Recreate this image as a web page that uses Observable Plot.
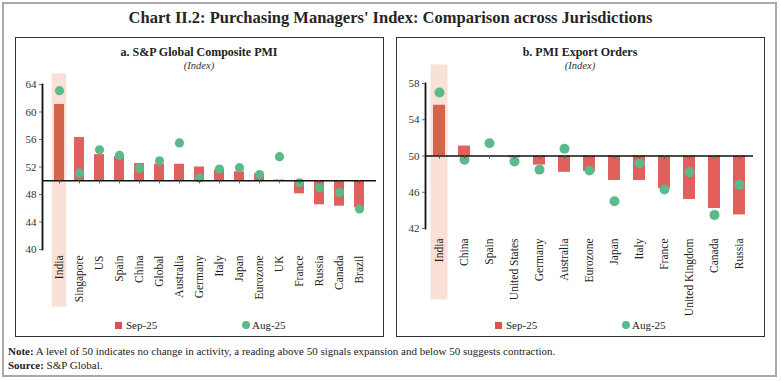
<!DOCTYPE html>
<html><head><meta charset="utf-8">
<script src="https://cdn.jsdelivr.net/npm/d3@7"></script>
<script src="https://cdn.jsdelivr.net/npm/@observablehq/plot@0.6"></script>
<style>
body{margin:0;background:#fff;font-family:"Liberation Serif",serif;color:#222;}
#root{position:relative;width:781px;height:381px;overflow:hidden;background:#fff;}
.frame{position:absolute;left:2px;top:2px;width:771px;height:371px;border:2px solid #a9a9a9;}
.title{position:absolute;left:0;width:781px;top:9px;text-align:center;font-size:16.5px;font-weight:bold;color:#262626;line-height:18px;}
.panel{position:absolute;top:37px;width:367px;height:298px;border:1px solid #333;}
.ptitle{position:absolute;width:368px;text-align:center;font-weight:bold;font-size:12px;line-height:14px;top:45px;}
.psub{position:absolute;width:368px;text-align:center;font-style:italic;font-size:10.5px;line-height:12px;top:60px;color:#333;}
.plot{position:absolute;top:37px;}
.leg{position:absolute;font-size:11px;line-height:12px;top:319px;color:#222;}
.sq{position:absolute;width:7px;height:7px;background:#D9534F;top:322px;}
.cc{position:absolute;width:8px;height:8px;border-radius:50%;background:#5BBA8B;top:321px;}
.note{position:absolute;left:8px;font-size:11px;line-height:12px;color:#222;}
</style></head>
<body><div id="root">
<div class="frame"></div>
<div class="title">Chart II.2: Purchasing Managers' Index: Comparison across Jurisdictions</div>
<div class="panel" style="left:15px"></div>
<div class="panel" style="left:396px"></div>
<div class="ptitle" style="left:15px">a. S&amp;P Global Composite PMI</div>
<div class="psub" style="left:15px">(Index)</div>
<div class="ptitle" style="left:396px">b. PMI Export Orders</div>
<div class="psub" style="left:396px">(Index)</div>
<div id="p1" class="plot" style="left:15px"></div>
<div id="p2" class="plot" style="left:396px"></div>
<div class="sq" style="left:115px"></div><div class="leg" style="left:126px">Sep-25</div>
<div class="cc" style="left:242px"></div><div class="leg" style="left:252px">Aug-25</div>
<div class="sq" style="left:495px"></div><div class="leg" style="left:506px">Sep-25</div>
<div class="cc" style="left:622px"></div><div class="leg" style="left:632px">Aug-25</div>
<div class="note" style="top:345px"><b>Note:</b> A level of 50 indicates no change in activity, a reading above 50 signals expansion and below 50 suggests contraction.</div>
<div class="note" style="top:359px"><b>Source:</b> S&amp;P Global.</div>
</div>
<script>
// Panel a: S&P Global Composite PMI
const compCats = ["India","Singapore","US","Spain","China","Global","Australia","Germany","Italy","Japan","Eurozone","UK","France","Russia","Canada","Brazil"];
const compSep = [61.1, 56.3, 53.8, 53.5, 52.5, 52.4, 52.4, 52.0, 51.6, 51.3, 51.0, 50.1, 48.1, 46.5, 46.3, 46.1];
const compAug = [63.1, 51.1, 54.5, 53.7, 51.8, 52.9, 55.5, 50.4, 51.7, 51.9, 50.9, 53.5, 49.7, 49.0, 48.3, 45.9];
const compTicks = [40, 44, 48, 52, 56, 60, 64];

// Panel b: PMI Export Orders
const expCats = ["India","China","Spain","United States","Germany","Australia","Eurozone","Japan","Italy","France","United Kingdom","Canada","Russia"];
const expSep = [55.6, 51.1, 50.0, 49.8, 49.0, 48.2, 48.3, 47.3, 47.3, 46.4, 45.2, 44.2, 43.5];
const expAug = [57.0, 49.6, 51.4, 49.4, 48.5, 50.8, 48.4, 45.0, 49.2, 46.3, 48.2, 43.5, 46.8];
const expTicks = [42, 46, 50, 54, 58];

const BAR = "#E0605C", BAR_IN = "#D2654A", DOT = "#5BBA8B", BAND = "#F9E1D8";

function panel(cats, sep, aug, ticks, o) {
  const rows = cats.map((c, i) => ({cat: c, sep: sep[i], aug: aug[i]}));
  const lo = ticks[0], hi = ticks[ticks.length - 1];
  return Plot.plot({
    width: 368, height: o.height,
    marginLeft: o.ml, marginRight: o.mr, marginTop: o.mt, marginBottom: o.mb,
    style: {fontFamily: "Liberation Serif", fontSize: "11px", color: "#333", background: "transparent", overflow: "visible"},
    x: {domain: cats, paddingInner: o.pi, paddingOuter: o.pi / 2, label: null},
    y: {domain: [lo, hi], label: null},
    color: {type: "identity"},
    marks: [
      Plot.barY([cats[0]], {x: d => d, y1: lo - o.bandLo, y2: hi + o.bandHi, fill: BAND, insetLeft: -o.bi, insetRight: -o.bi}),
      Plot.barY(rows, {x: "cat", y1: 50, y2: "sep", fill: d => d.cat === "India" ? BAR_IN : BAR}),
      Plot.dot(rows, {x: "cat", y: "aug", r: o.r, fill: DOT}),
      Plot.ruleY([50], {stroke: "#111", strokeWidth: 1.6}),
      Plot.ruleX(cats, {x: d => d, y1: 50, y2: 50 - o.tk, stroke: "#555", strokeWidth: 1}),
      Plot.frame({anchor: "left", stroke: "#111", strokeWidth: 1.8}),
      Plot.axisY({ticks, tickSize: 3, tickPadding: 3, stroke: "#666", fill: "#333", fontSize: 11}),
      Plot.axisX({anchor: "bottom", tickRotate: -90, tickSize: 0, tickPadding: o.tp, fill: "#222", fontSize: 11.5})
    ]
  });
}

document.getElementById("p1").append(panel(compCats, compSep, compAug, compTicks,
  {height: 275, ml: 27, mr: 7, mt: 47, mb: 63, pi: 0.5, bandLo: 8.4, bandHi: 1.55, bi: 2.3, r: 4.6, tk: 0.45, tp: 6}));
document.getElementById("p2").append(panel(expCats, expSep, expAug, expTicks,
  {height: 275, ml: 29, mr: 11, mt: 46, mb: 84, pi: 0.52, bandLo: 7.9, bandHi: 2.05, bi: 2.5, r: 5, tk: 0.35, tp: 10}));
</script>
</body></html>
